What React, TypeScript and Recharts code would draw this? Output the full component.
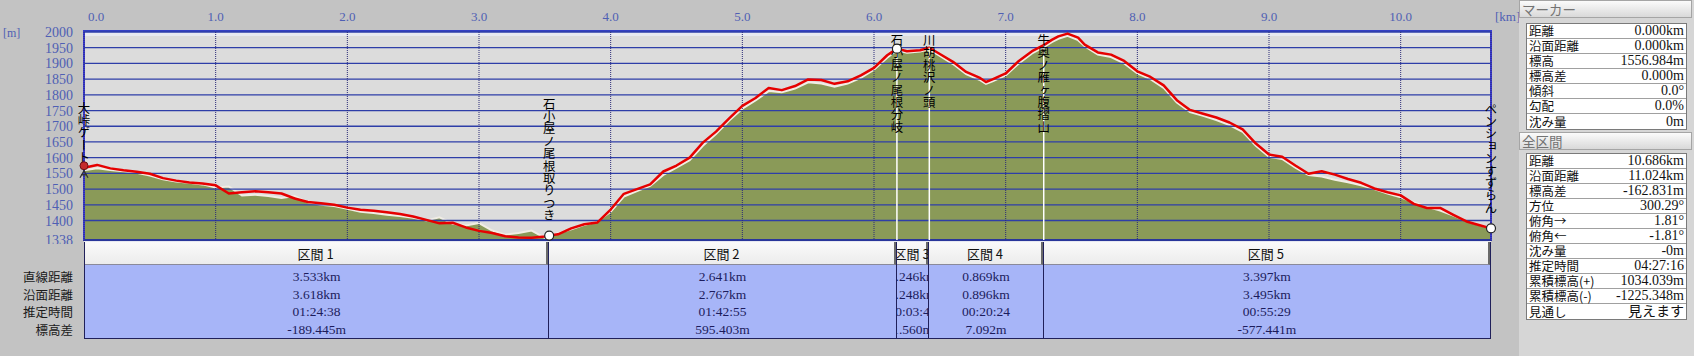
import React from "react";
import {
  ComposedChart,
  Area,
  Line,
  Scatter,
  XAxis,
  YAxis,
  CartesianGrid,
} from "recharts";

// --- profile data (horizontal distance km / elevation m) ---
const distKm = [
  0.0, 0.1, 0.2, 0.3, 0.4, 0.5, 0.6, 0.7, 0.8, 0.9,
  1.0, 1.1, 1.2, 1.3, 1.4, 1.5, 1.6, 1.7, 1.8, 1.9,
  2.0, 2.1, 2.2, 2.3, 2.4, 2.5, 2.6, 2.7, 2.8, 2.9,
  3.0, 3.1, 3.2, 3.3, 3.4, 3.5, 3.533, 3.6, 3.7, 3.8, 3.9,
  4.0, 4.1, 4.2, 4.3, 4.4, 4.5, 4.6, 4.7, 4.8, 4.9,
  5.0, 5.1, 5.2, 5.3, 5.4, 5.5, 5.6, 5.7, 5.8, 5.9,
  6.0, 6.1, 6.174, 6.25, 6.35, 6.42, 6.5, 6.6, 6.7, 6.8, 6.85, 6.9,
  7.0, 7.1, 7.2, 7.289, 7.35, 7.4, 7.47, 7.55, 7.6, 7.7, 7.8, 7.9,
  8.0, 8.1, 8.2, 8.3, 8.4, 8.5, 8.6, 8.7, 8.8, 8.9,
  9.0, 9.1, 9.2, 9.3, 9.4, 9.5, 9.6, 9.7, 9.8, 9.9,
  10.0, 10.1, 10.2, 10.3, 10.4, 10.5, 10.6, 10.686,
];

// GPS track (red)
const trackElev = [
  1568, 1577, 1566, 1560, 1555, 1549, 1535, 1527, 1521, 1518,
  1512, 1486, 1490, 1493, 1490, 1486, 1470, 1459, 1455, 1450,
  1441, 1434, 1431, 1426, 1421, 1413, 1402, 1391, 1393, 1378,
  1367, 1360, 1350, 1346, 1345, 1349, 1352, 1356, 1375, 1388, 1394,
  1435, 1485, 1500, 1515, 1556, 1575, 1600, 1648, 1683, 1725,
  1765, 1790, 1822, 1815, 1828, 1849, 1847, 1835, 1843, 1862,
  1886, 1926, 1947, 1939, 1942, 1950, 1930, 1905, 1873, 1855, 1841, 1849,
  1868, 1908, 1939, 1958, 1975, 1986, 1995, 1982, 1960, 1935, 1928, 1908,
  1875, 1857, 1830, 1783, 1752, 1740, 1728, 1712, 1690, 1645,
  1610, 1603, 1575, 1549, 1557, 1546, 1532, 1520, 1502, 1490,
  1480, 1453, 1440, 1440, 1418, 1397, 1385, 1375,
];

// terrain (green)
const terrainElev = [
  1560, 1566, 1561, 1557, 1552, 1543, 1531, 1524, 1520, 1515,
  1505, 1508, 1480, 1482, 1478, 1472, 1478, 1458, 1450, 1446,
  1437, 1428, 1424, 1418, 1414, 1409, 1400, 1410, 1390, 1384,
  1392, 1368, 1355, 1360, 1368, 1345, 1350, 1360, 1372, 1386, 1398,
  1428, 1476, 1494, 1510, 1545, 1568, 1592, 1638, 1675, 1718,
  1756, 1782, 1812, 1808, 1820, 1840, 1836, 1826, 1836, 1854,
  1880, 1918, 1942, 1934, 1938, 1945, 1924, 1898, 1866, 1848, 1835, 1843,
  1862, 1900, 1932, 1952, 1968, 1978, 1988, 1974, 1955, 1928, 1920, 1900,
  1868, 1850, 1822, 1776, 1745, 1733, 1720, 1704, 1682, 1638,
  1603, 1596, 1568, 1545, 1540, 1530, 1522, 1512, 1500, 1486,
  1474, 1458, 1444, 1432, 1416, 1398, 1386, 1376,
];

const xTicks = [0, 1, 2, 3, 4, 5, 6, 7, 8, 9, 10];
const yTicks = [1338, 1400, 1450, 1500, 1550, 1600, 1650, 1700, 1750, 1800, 1850, 1900, 1950, 2000];
const TOTAL_KM = 10.686;

// waypoints
const markerKm = [0, 3.533, 6.174, 6.42, 7.289, 10.686];
const markerElev = [1568, 1352, 1947, 1950, 1958, 1375];
const markerNames = [
  "大峠ゲート",
  "石小屋ノ尾根取りつき",
  "石小屋ノ尾根分岐",
  "川胡桃沢ノ頭",
  "牛奥ノ雁ヶ腹摺山",
  "ペンションすずらん",
];
const markerDot = [false, true, true, false, false, true];

// sections table
const sectionNames = ["区間 1", "区間 2", "区間 3", "区間 4", "区間 5"];
const sectionKm = [3.533, 2.641, 0.246, 0.869, 3.397];
const straightDist = ["3.533km", "2.641km", "0.246km", "0.869km", "3.397km"];
const surfaceDist = ["3.618km", "2.767km", "0.248km", "0.896km", "3.495km"];
const estTime = ["01:24:38", "01:42:55", "00:03:48", "00:20:24", "00:55:29"];
const elevDiff = ["-189.445m", "595.403m", "1.560m", "7.092m", "-577.441m"];
const rowLabels = ["直線距離", "沿面距離", "推定時間", "標高差"];

// side panel
const markerLabels = ["距離", "沿面距離", "標高", "標高差", "傾斜", "勾配", "沈み量"];
const markerValues = ["0.000km", "0.000km", "1556.984m", "0.000m", "0.0°", "0.0%", "0m"];
const totalLabels = [
  "距離", "沿面距離", "標高差", "方位", "俯角→", "俯角←",
  "沈み量", "推定時間", "累積標高(+)", "累積標高(-)", "見通し",
];
const totalValues = [
  "10.686km", "11.024km", "-162.831m", "300.29°", "1.81°", "-1.81°",
  "-0m", "04:27:16", "1034.039m", "-1225.348m", "見えます",
];

// --- layout ---
const W = 1694;
const CH = 244;
const PLOT_L = 84;
const PLOT_R = 1491;
const PLOT_T = 32;
const PLOT_B = 240;
const margin = { top: 0, right: W - PLOT_R, bottom: CH - PLOT_B, left: 0 };

const SERIF = '"Liberation Serif", "DejaVu Serif", "Noto Sans CJK JP", serif';
const JP = '"Noto Sans CJK JP", sans-serif';
const AXIS_BLUE = "#4f5fb4";

const profile = distKm.map((km, i) => ({
  km,
  track: trackElev[i],
  terrain: terrainElev[i],
}));
const markers = markerKm.map((km, i) => ({
  km,
  elev: markerElev[i],
  name: markerNames[i],
  idx: i,
}));

const kmToX = (km: number) => PLOT_L + (km / TOTAL_KM) * (PLOT_R - PLOT_L);

const XTick = (p: any) => {
  const v = p.payload.value;
  return (
    <text
      x={p.x + (v === 0 ? 12 : 0)}
      y={21}
      textAnchor="middle"
      fontSize={13}
      fill={AXIS_BLUE}
      fontFamily={SERIF}
    >
      {v.toFixed(1)}
    </text>
  );
};

const YTick = (p: any) => (
  <text
    x={73}
    y={p.y + 5}
    textAnchor="end"
    fontSize={14}
    fill={AXIS_BLUE}
    fontFamily={SERIF}
  >
    {p.payload.value}
  </text>
);

const bandLine = (p: any) => (
  <line
    key={p.key}
    x1={p.x1}
    x2={p.x2}
    y1={p.y1 + 2}
    y2={p.y2 + 2}
    stroke="#e7e9f1"
    strokeWidth={4}
  />
);

const hLine = (p: any) => (
  <line key={p.key} x1={p.x1} x2={p.x2} y1={p.y1} y2={p.y2} stroke="#2e3ea8" strokeWidth={1.3} />
);

const vLine = (p: any) => (
  <line
    key={p.key}
    x1={p.x1}
    x2={p.x2}
    y1={p.y1}
    y2={p.y2}
    stroke="#2a2a78"
    strokeWidth={1}
    strokeDasharray="1 1"
  />
);

const MarkerShape = (p: any) => {
  const { cx, cy, payload } = p;
  const i = payload.idx;
  const name: string = payload.name;
  const fs = 12.4;
  const h = name.length * fs;
  const gap = i === 0 ? 4 : 14;
  let top = cy - gap - h;
  if (top < PLOT_T + 2) top = PLOT_T + 2;
  const inner = i > 0 && i < markerKm.length - 1;
  return (
    <g>
      {inner && (
        <line x1={cx} x2={cx} y1={cy} y2={PLOT_B} stroke="#ffffff" strokeWidth={1.5} />
      )}
      <text
        x={cx}
        y={top}
        fontSize={fs}
        fontFamily={JP}
        fill="#000"
        style={{ writingMode: "vertical-rl" as any }}
      >
        {name}
      </text>
      {markerDot[i] && (
        <circle cx={cx} cy={cy} r={4.5} fill="#ffffff" stroke="#222" strokeWidth={1.2} />
      )}
      {i === 0 && (
        <g>
          <circle cx={cx} cy={cy - 2} r={4} fill="#c42a2a" stroke="#6a1010" strokeWidth={1} />
          <path
            d={`M${cx - 4},${cy + 10} L${cx},${cy + 3} L${cx + 4},${cy + 10} M${cx - 3},${cy + 7} L${cx + 3},${cy + 7}`}
            stroke="#333"
            strokeWidth={1.3}
            fill="none"
          />
        </g>
      )}
    </g>
  );
};

const xAxisBase = {
  dataKey: "km",
  type: "number" as const,
  domain: [0, TOTAL_KM],
  ticks: xTicks,
  interval: 0,
  orientation: "top" as const,
  height: PLOT_T,
  axisLine: false,
  tickLine: false,
};
const yAxisBase = {
  type: "number" as const,
  domain: [1338, 2000],
  ticks: yTicks,
  interval: 0,
  width: PLOT_L,
  axisLine: false,
  tickLine: false,
};

const abs = (s: React.CSSProperties): React.CSSProperties => ({ position: "absolute", ...s });

const SectionTable = () => {
  let cum = 0;
  const cols = sectionKm.map((d, i) => {
    const x0 = kmToX(cum);
    cum += d;
    const x1 = kmToX(cum);
    return { i, x0, x1 };
  });
  const vals = [straightDist, surfaceDist, estTime, elevDiff];
  return (
    <>
      {rowLabels.map((l, r) => (
        <div
          key={l}
          style={abs({
            left: 0,
            width: 73,
            top: 268 + r * 17.7,
            height: 17.7,
            lineHeight: "17.7px",
            textAlign: "right",
            fontFamily: JP,
            fontSize: 12.5,
            color: "#1a1a1a",
          })}
        >
          {l}
        </div>
      ))}
      {cols.map((c) => (
        <div
          key={c.i}
          style={abs({
            left: c.x0,
            width: c.x1 - c.x0,
            top: 242,
            height: 97,
            overflow: "hidden",
            boxSizing: "border-box",
            borderLeft: c.i === 0 ? "1px solid #20205a" : "none",
            borderRight: "1px solid #20205a",
            borderBottom: "1.5px solid #20205a",
          })}
        >
          <div
            style={{
              height: 23,
              background: "linear-gradient(#fafafa, #ececec)",
              borderBottom: "1.5px solid #8a8a9a",
              borderRight: "2px solid #6a6a6a",
              boxSizing: "border-box",
              display: "flex",
              justifyContent: "center",
              alignItems: "center",
              fontFamily: JP,
              fontSize: 13,
              color: "#111",
            }}
          >
            <span style={{ whiteSpace: "nowrap", flexShrink: 0 }}>{sectionNames[c.i]}</span>
          </div>
          <div style={{ height: 74, background: "#a7b5f8", paddingTop: 3, boxSizing: "border-box" }}>
            {vals.map((arr, r) => (
              <div
                key={r}
                style={{
                  height: 17.7,
                  display: "flex",
                  justifyContent: "center",
                  alignItems: "center",
                  fontFamily: SERIF,
                  fontSize: 13.5,
                  color: "#1c1c5c",
                }}
              >
                <span style={{ whiteSpace: "nowrap", flexShrink: 0 }}>{arr[c.i]}</span>
              </div>
            ))}
          </div>
        </div>
      ))}
    </>
  );
};

const PanelTable = ({ top, labels, values }: { top: number; labels: string[]; values: string[] }) => (
  <div
    style={abs({
      left: 7,
      top,
      width: 161,
      background: "#ffffff",
      border: "1px solid #7a7a7a",
      boxSizing: "border-box",
    })}
  >
    {labels.map((l, i) => (
      <div
        key={l}
        style={{
          height: 15,
          boxSizing: "border-box",
          borderBottom: i < labels.length - 1 ? "1px solid #a0a0a0" : "none",
          display: "flex",
          justifyContent: "space-between",
          alignItems: "center",
          padding: "0 2px 0 2px",
          lineHeight: "14px",
        }}
      >
        <span style={{ fontFamily: JP, fontSize: 12.5, color: "#111" }}>{l}</span>
        <span style={{ fontFamily: SERIF, fontSize: 14, color: "#111" }}>{values[i]}</span>
      </div>
    ))}
  </div>
);

const PanelHeader = ({ top, text }: { top: number; text: string }) => (
  <div
    style={abs({
      left: 0,
      top,
      width: 173,
      height: 18,
      background: "linear-gradient(#fbfbfb, #d9d9d9)",
      border: "1px solid #a5a5a5",
      boxSizing: "border-box",
      fontFamily: JP,
      fontSize: 13.5,
      color: "#737373",
      lineHeight: "16px",
      paddingLeft: 2,
    })}
  >
    {text}
  </div>
);

export default function App() {
  return (
    <div
      style={abs({
        left: 0,
        top: 0,
        width: W,
        height: 356,
        background: "#c3c3c3",
        overflow: "hidden",
      })}
    >
      {/* terrain layer */}
      <div style={abs({ left: 0, top: 0 })}>
        <ComposedChart width={W} height={CH} data={profile} margin={margin}>
          <XAxis {...xAxisBase} tick={false} />
          <YAxis {...yAxisBase} tick={false} />
          <CartesianGrid vertical={false} horizontal={bandLine} fill="#dcdcdc" />
          <Area
            type="linear"
            dataKey="terrain"
            baseValue={1338}
            fill="#8a9a58"
            fillOpacity={1}
            stroke="#f1ede4"
            strokeWidth={2}
            isAnimationActive={false}
          />
        </ComposedChart>
      </div>

      {/* plot frame */}
      <div
        style={abs({
          left: PLOT_L - 1,
          top: PLOT_T - 2,
          width: PLOT_R - PLOT_L + 2,
          height: PLOT_B - PLOT_T + 3,
          borderTop: "2.5px solid #3440c4",
          borderLeft: "2px solid #3a3ad0",
          borderRight: "2px solid #3a3ad0",
          borderBottom: "2px solid #1e2070",
          boxSizing: "border-box",
        })}
      />

      {/* grid, track, markers, axes */}
      <div style={abs({ left: 0, top: 0 })}>
        <ComposedChart width={W} height={CH} data={profile} margin={margin}>
          <XAxis {...xAxisBase} tick={<XTick />} />
          <YAxis {...yAxisBase} tick={<YTick />} />
          <CartesianGrid horizontal={hLine} vertical={vLine} />
          <Line
            type="linear"
            dataKey="track"
            stroke="#e60000"
            strokeWidth={2.5}
            dot={false}
            strokeLinejoin="round"
            isAnimationActive={false}
          />
          <Scatter data={markers} dataKey="elev" shape={<MarkerShape />} isAnimationActive={false} />
        </ComposedChart>
      </div>

      <div style={abs({ left: 3, top: 26, fontFamily: SERIF, fontSize: 12, color: AXIS_BLUE })}>[m]</div>
      <div style={abs({ left: 1495, top: 9, fontFamily: SERIF, fontSize: 13, color: AXIS_BLUE })}>[km]</div>

      <SectionTable />

      {/* right panel */}
      <div style={abs({ left: 1519, top: 0, width: 175, height: 356, background: "#d6d6d6" })}>
        <PanelHeader top={0} text="マーカー" />
        <PanelTable top={23} labels={markerLabels} values={markerValues} />
        <PanelHeader top={132} text="全区間" />
        <PanelTable top={153} labels={totalLabels} values={totalValues} />
      </div>
    </div>
  );
}
